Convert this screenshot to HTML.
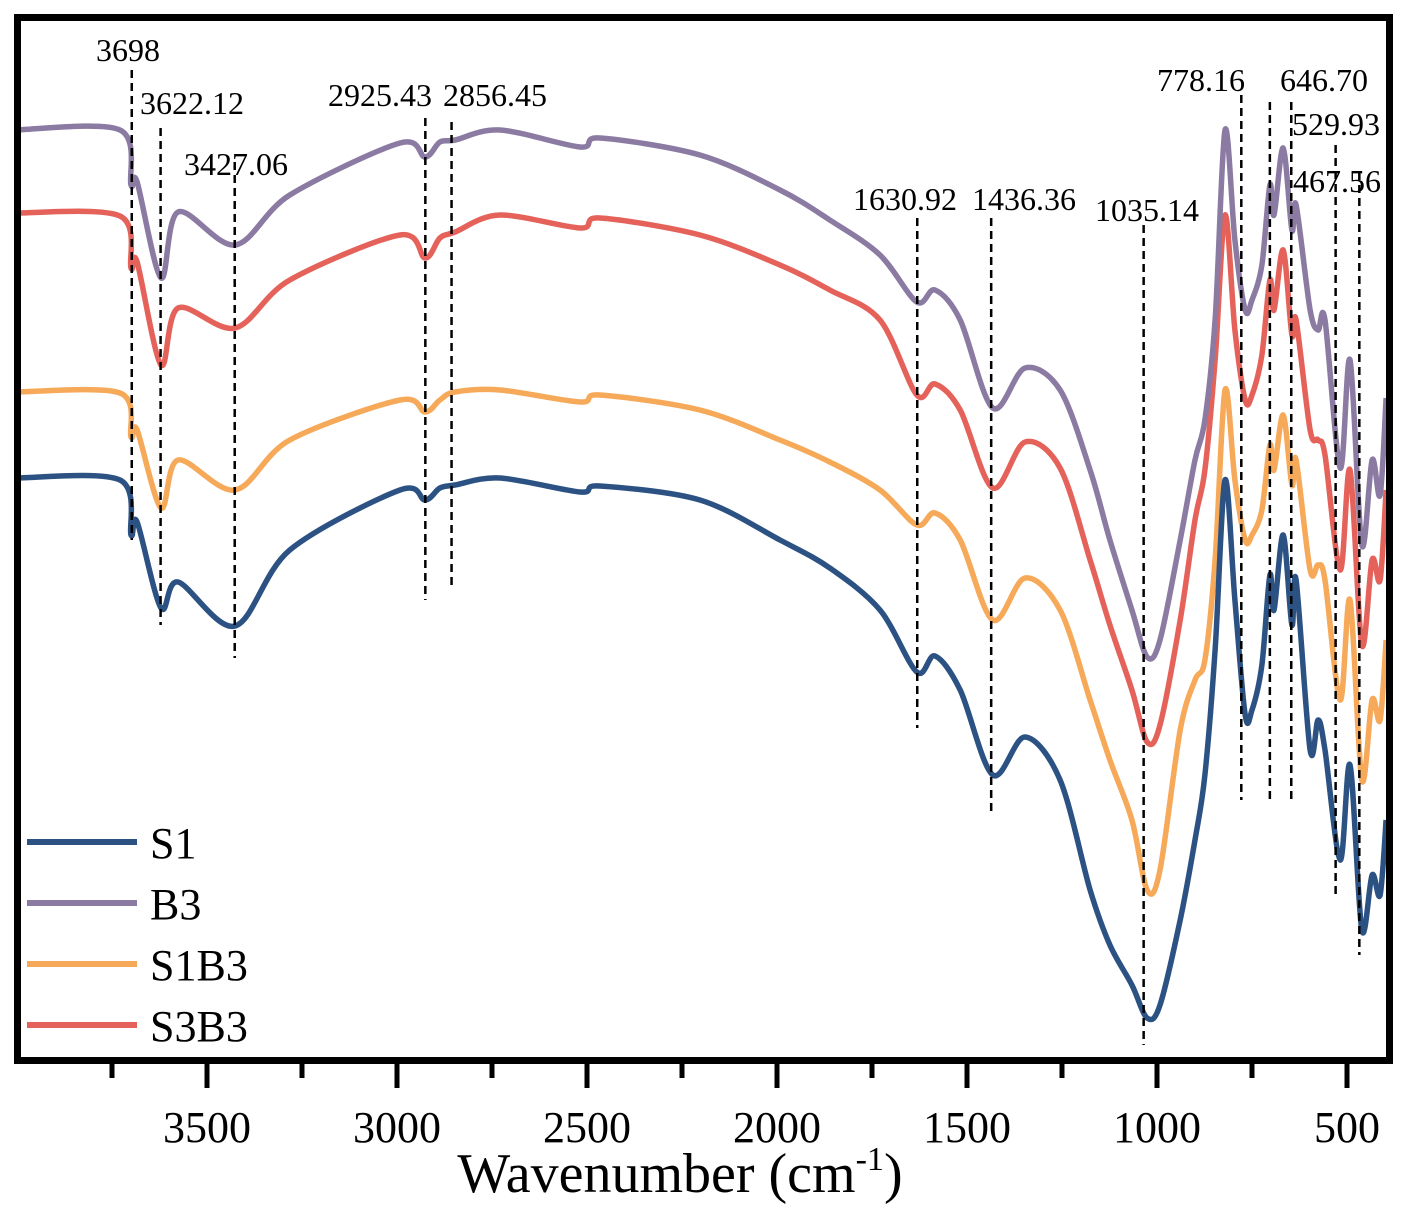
<!DOCTYPE html>
<html><head><meta charset="utf-8"><style>
html,body{margin:0;padding:0;background:#fff;}
svg{display:block;font-family:"Liberation Serif",serif;}
</style></head><body>
<svg id="chart" width="1403" height="1212" viewBox="0 0 1403 1212" xmlns="http://www.w3.org/2000/svg">
<g id="series"></g>
<g id="annots"></g>
<rect x="17.5" y="17.5" width="1372" height="1043" fill="none" stroke="#000" stroke-width="7"/>
<g id="ticks"></g>
<text x="680" y="1192" font-size="56" text-anchor="middle">Wavenumber (cm<tspan font-size="34" dy="-22">-1</tspan><tspan dy="22">)</tspan></text>
<g id="legend"></g>
</svg>
<script>
const wavenumbers=[4005,3729,3700,3684,3621,3576,3426,3282,2992,2926,2887,2847,2729,2518,2466,2203,1992,1861,1729,1632,1584,1518,1432,1347,1255,1176,1124,1066,1026,992,939,900,874,847,821,795,768,750,724,703,692,668,645,634,597,576,558,518,492,461,434,413,397];
const s1=[587,585,530,543,457,483,439,515,575,565,577,580,587,573,579,565,525,497,455,393,409,375,290,328,285,175,120,80,47,60,145,225,290,415,585,465,350,355,400,490,455,530,440,485,315,345,315,205,300,135,190,170,245];
const b3=[935,935,880,883,787,853,820,870,922,908,923,925,935,918,927,910,875,845,810,763,775,745,657,697,675,595,525,455,408,425,525,605,645,745,935,825,755,765,800,880,850,917,835,860,755,735,745,597,705,520,605,570,667];
const s1b3=[673,672,628,635,557,605,575,625,665,653,665,673,675,663,670,655,625,603,575,540,552,525,445,487,455,365,305,245,175,195,335,385,405,505,675,585,525,530,555,620,595,650,580,605,495,500,485,365,465,285,365,345,425];
const s3b3=[852,849,797,803,700,757,737,785,830,807,827,833,850,837,847,830,800,775,745,670,681,655,577,623,597,505,440,375,323,340,445,545,595,705,850,735,665,670,710,785,755,815,730,745,635,625,610,495,595,420,505,485,575];
const seriesNames=["S3B3","S1B3","B3","S1"];
const legendNames=["S1","B3","S1B3","S3B3"];
const xTicks=[3500,3000,2500,2000,1500,1000,500];
const peakWaves=[3698,3622.12,3427.06,2925.43,2856.45,1630.92,1436.36,1035.14,778.16,703,646.70,529.93,467.56];
const peakLabels=["3698","3622.12","3427.06","2925.43","2856.45","1630.92","1436.36","1035.14","778.16","","646.70","529.93","467.56"];
const peakTopY=[70,128,162,118,122,218,218,225,95,102,102,145,172];
const peakBotY=[540,625,658,600,590,728,812,1045,800,802,802,898,955];
const labelX=[96,140,184,328,443,853,972,1095,1157,0,1280,1292,1293];
const labelY=[61,114,175,106,106,210,210,221,91,0,91,135,192];
const colors={S1:"#2b5283",B3:"#8b7ba3",S1B3:"#f6a959",S3B3:"#e5625a"};
const dataMap={S1:s1,B3:b3,S1B3:s1b3,S3B3:s3b3};
const NS="http://www.w3.org/2000/svg";
function xs(w){return 207+(3500-w)*0.38;}
function ys(v){return 1065-v;}
function mk(t,a,p){const e=document.createElementNS(NS,t);for(const k in a)e.setAttribute(k,a[k]);p.appendChild(e);return e;}
function pathFor(vals){
  const pts=wavenumbers.map((w,i)=>[xs(w),ys(vals[i])]);
  let d="M"+pts[0][0]+","+pts[0][1];
  for(let i=0;i<pts.length-1;i++){
    const p0=pts[Math.max(0,i-1)],p1=pts[i],p2=pts[i+1],p3=pts[Math.min(pts.length-1,i+2)];
    const t=0.16;
    const c1=[p1[0]+(p2[0]-p0[0])*t,p1[1]+(p2[1]-p0[1])*t];
    const c2=[p2[0]-(p3[0]-p1[0])*t,p2[1]-(p3[1]-p1[1])*t];
    d+=" C"+c1[0].toFixed(1)+","+c1[1].toFixed(1)+" "+c2[0].toFixed(1)+","+c2[1].toFixed(1)+" "+p2[0].toFixed(1)+","+p2[1].toFixed(1);
  }
  return d;
}
const sg=document.getElementById("series");
seriesNames.forEach(n=>{
  const p=mk("path",{d:pathFor(dataMap[n]),fill:"none",stroke:colors[n],"stroke-width":"5.5","stroke-linejoin":"round"},sg);
  
  
});
const ag=document.getElementById("annots");
peakWaves.forEach((w,i)=>{
  const x=xs(w);
  const l=mk("line",{x1:x,x2:x,y1:peakTopY[i],y2:peakBotY[i],stroke:"#000","stroke-width":"2.5","stroke-dasharray":"8,5"},ag);
  
  
  if(peakLabels[i]){
    const t=mk("text",{x:labelX[i],y:labelY[i],"font-size":"32"},ag);
    t.textContent=peakLabels[i];
    
    
  }
});
const tg=document.getElementById("ticks");
for(let w=3750;w>=400;w-=250){
  const major=(w%500===0);
  const x=xs(w);
  const tk=mk("line",{x1:x,x2:x,y1:1064,y2:major?1088:1078,stroke:"#000","stroke-width":"5"},tg);
  
  
}
xTicks.forEach(w=>{
  const t=mk("text",{x:xs(w),y:1142,"font-size":"44","text-anchor":"middle"},tg);
  t.textContent=w;
  
  
});
const lg=document.getElementById("legend");
legendNames.forEach((n,i)=>{
  const y=842+i*61;
  const l=mk("line",{x1:27,x2:137,y1:y,y2:y,stroke:colors[n],"stroke-width":"6"},lg);
  
  
  const t=mk("text",{x:150,y:y+16,"font-size":"44"},lg);
  t.textContent=n;
  
  
});
</script>
</body></html>
